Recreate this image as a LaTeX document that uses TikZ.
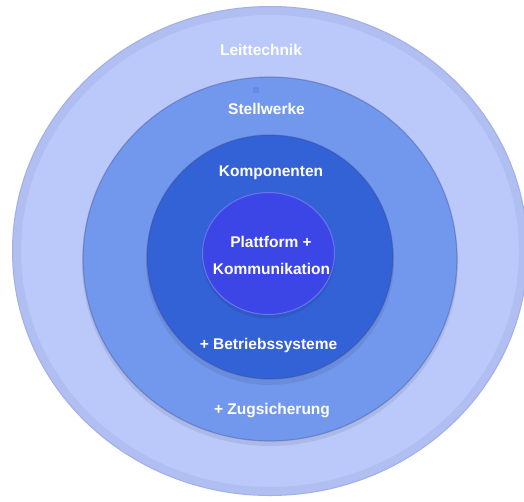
\documentclass[tikz,border=0pt]{standalone}
\usepackage{fontspec}
\setmainfont{Liberation Sans}
\usetikzlibrary{calc}
\definecolor{RingA}{RGB}{186,201,250}
\definecolor{RingB}{RGB}{114,152,238}
\definecolor{RingC}{RGB}{50,98,214}
\definecolor{RingD}{RGB}{60,70,230}
\definecolor{RimClr}{RGB}{60,70,140}

\begin{document}
\begin{tikzpicture}[x=1pt,y=-1pt,
  lbl/.style={text=white,font=\fontsize{15.5}{18}\selectfont\bfseries,inner sep=0pt},
  rim/.style={draw=RimClr,draw opacity=.35,line width=1.2pt},
  shade/.style={fill=black,fill opacity=.08}]
\useasboundingbox (0,0) rectangle (524,501);

\coordinate (OA) at (270,251);
\coordinate (OB) at (270,259);
\coordinate (OC) at (270,257);
\coordinate (OD) at (268.5,253.5);

% outer ring
\fill[RingA] (OA) ellipse [x radius=258,y radius=245];
\draw[RimClr,opacity=.08,line width=8pt] (OA) ellipse [x radius=253,y radius=240];
\draw[RimClr,opacity=.18,line width=1pt] (OA) ellipse [x radius=257.5,y radius=244.5];

% second ring
\fill[shade] ($(OB)+(0,4)$) ellipse [x radius=188,y radius=183];
\fill[RingB] (OB) ellipse [x radius=187,y radius=182];
\draw[rim] (OB) ellipse [x radius=187,y radius=182];

% third ring
\fill[shade] ($(OC)+(0,5)$) ellipse [x radius=124,y radius=123];
\fill[RingC] (OC) ellipse [x radius=123,y radius=122];
\draw[rim] (OC) ellipse [x radius=123,y radius=122];

% core
\fill[shade] ($(OD)+(0,3)$) ellipse [x radius=67,y radius=62];
\fill[RingD] (OD) ellipse [x radius=66.5,y radius=61.5];
\draw[white,opacity=.25,line width=1pt] (OD) ellipse [x radius=66,y radius=61];

\fill[RingB!80!RingD] (253,87) rectangle (259,93);

\node[lbl] (leit) at (261,50) {Leittechnik};
\node[lbl] (stell) at (266.5,109) {Stellwerke};
\node[lbl] (komp) at (271,173) {Komponenten};
\node[lbl] (platt) at (271,242) {Plattform +};
\node[lbl] (komm) at (271.5,269) {Kommunikation};
\node[lbl] (betr) at (268.5,345) {+ Betriebssysteme};
\node[lbl] (zug) at (272,411) {+ Zugsicherung};

\end{tikzpicture}
\end{document}
